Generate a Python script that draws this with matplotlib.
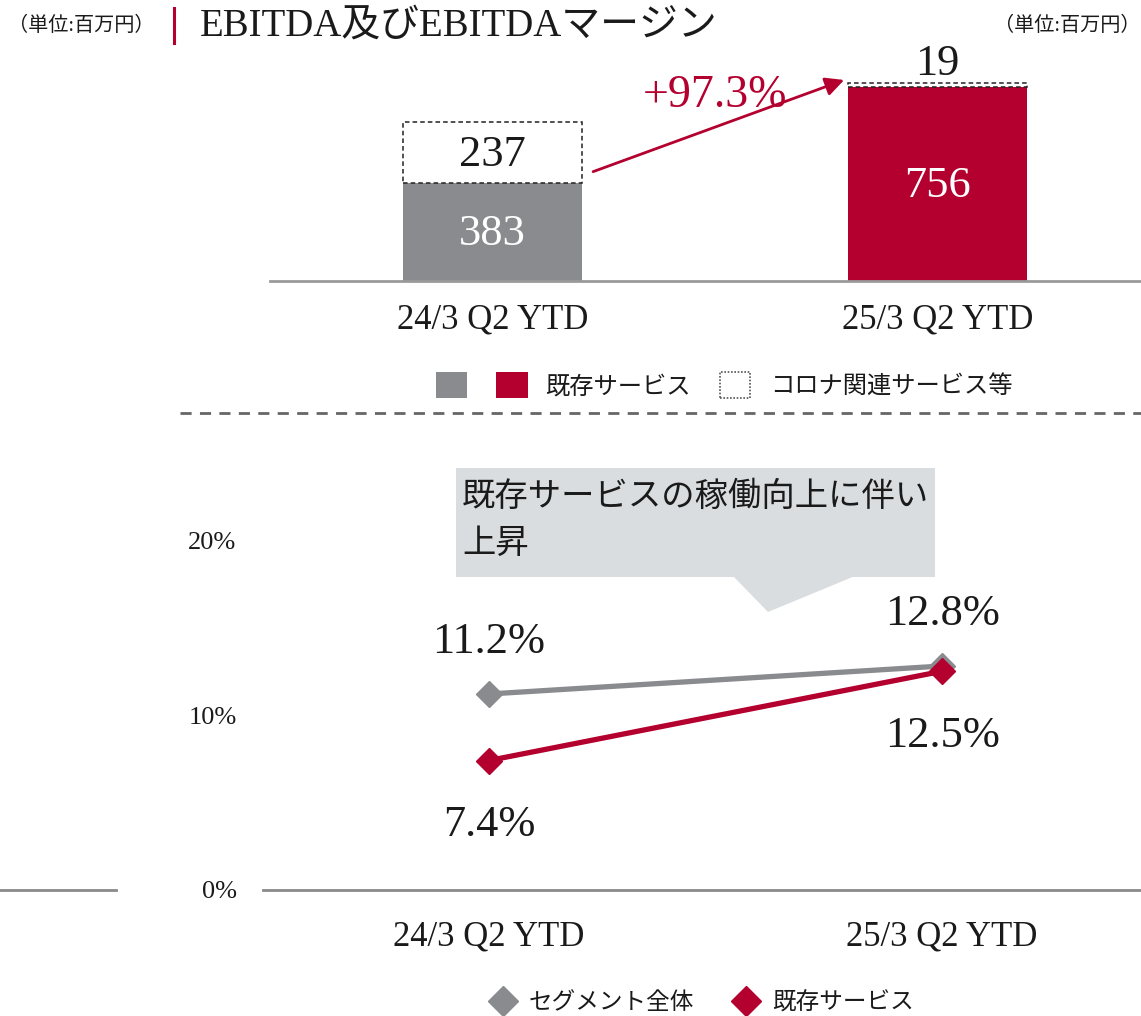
import matplotlib
matplotlib.use('Agg')
import matplotlib.pyplot as plt
from matplotlib.patches import Patch, Polygon, Rectangle
from matplotlib.lines import Line2D
from matplotlib.legend_handler import HandlerTuple
import matplotlib.ticker as mticker

plt.rcParams['font.family'] = ['Liberation Serif', 'Noto Sans CJK JP', 'DejaVu Sans']

# ---- data ----
periods = ['24/3 Q2 YTD', '25/3 Q2 YTD']
existing = [383, 756]          # 既存サービス
covid = [237, 19]              # コロナ関連サービス等
growth_label = '+97.3%'
margin_total = [11.2, 12.8]    # セグメント全体
margin_existing = [7.4, 12.5]  # 既存サービス
pct_ticks = [0, 10, 20]

GRAY = '#898b8e'
RED = '#b4002e'
TXT = '#1a1a1a'

W, H = 1141, 1016
fig = plt.figure(figsize=(W / 100, H / 100), dpi=100)

def fx(px):
    return px / W

def fy(py):
    return 1 - py / H

# ---------- header ----------
fig.text(fx(8), fy(26), '（単位:百万円）', fontsize=14.5, color=TXT, va='center', ha='left')
fig.text(fx(1141), fy(26), '（単位:百万円）', fontsize=14.5, color=TXT, va='center', ha='right')
fig.add_artist(Line2D([fx(174), fx(174)], [fy(8), fy(43)], color=RED, lw=2.2))
fig.text(fx(200), fy(26), 'EBITDA及びEBITDAマージン', fontsize=28, color=TXT, va='center', ha='left')

# ---------- top: stacked bars ----------
ax1 = fig.add_axes([fx(270), fy(281), fx(1141) - fx(270), (281 - 60) / H])
x = [0, 1]
bw = 0.402
ax1.bar(x[0], existing[0], bw, color=GRAY)
ax1.bar(x[1], existing[1], bw, color=RED)
ax1.bar(x, covid, bw, bottom=existing, facecolor='white', edgecolor='#222222',
        linestyle=(0, (3, 2)), linewidth=1.1)
ax1.set_xlim(-0.5, 1.457)
ax1.set_ylim(0, 863)
for s in ['top', 'right', 'left']:
    ax1.spines[s].set_visible(False)
ax1.spines['bottom'].set_color('#9a9a9a')
ax1.spines['bottom'].set_linewidth(2)
ax1.set_yticks([])
ax1.set_xticks(x)
ax1.set_xticklabels(periods, fontsize=25, color=TXT)
ax1.tick_params(axis='x', length=0, pad=16)

ax1.text(x[0], existing[0] / 2 - 8, f'{existing[0]}', color='white', fontsize=32, ha='center', va='center')
ax1.text(x[0], existing[0] + covid[0] / 2 - 8, f'{covid[0]}', color=TXT, fontsize=32, ha='center', va='center')
ax1.text(x[1], existing[1] / 2 - 8, f'{existing[1]}', color='white', fontsize=32, ha='center', va='center')
ax1.text(x[1], existing[1] + covid[1] - 6, f'{covid[1]}', color=TXT, fontsize=32, ha='center', va='bottom')

ax1.annotate('', xy=(0.79, existing[1] + covid[1] + 10), xytext=(0.226, 427),
             arrowprops=dict(arrowstyle='-|>', color=RED, lw=2, mutation_scale=28, shrinkA=0, shrinkB=0))
ax1.text(0.5, 722, growth_label, color=RED, fontsize=33, ha='center', va='center')

# top legends
h_gray = Patch(facecolor=GRAY, edgecolor='none')
h_red = Patch(facecolor=RED, edgecolor='none')
h_cov = Patch(facecolor='white', edgecolor='#555555', linestyle=(0, (1, 1)), linewidth=1.2)
fig.legend([(h_gray, h_red)], ['既存サービス'],
           handler_map={tuple: HandlerTuple(ndivide=None, pad=1.2)},
           loc='center', bbox_to_anchor=(fx(563), fy(385)), frameon=False,
           fontsize=17.5, handlelength=3.8, handleheight=1.3, handletextpad=0.7,
           labelcolor=TXT, borderpad=0, borderaxespad=0)
fig.legend([h_cov], ['コロナ関連サービス等'],
           loc='center', bbox_to_anchor=(fx(866), fy(385)), frameon=False,
           fontsize=17.5, handlelength=1.25, handleheight=1.3, handletextpad=0.8,
           labelcolor=TXT, borderpad=0, borderaxespad=0)

# separator
fig.add_artist(Line2D([fx(180), fx(1141)], [fy(413), fy(413)], color='#666666', lw=2,
                      linestyle=(0, (4, 3))))

# ---------- bottom: margin lines ----------
ax2 = fig.add_axes([fx(263), fy(890), fx(1141) - fx(263), (890 - 470) / H])
ax2.plot(x, margin_total, color=GRAY, lw=3.8, marker='D', markersize=13, zorder=3)
ax2.plot(x, margin_existing, color=RED, lw=3.8, marker='D', markersize=13, zorder=4)
ax2.set_xlim(-0.499, 1.439)
ax2.set_ylim(0, 24)
for s in ['top', 'right', 'left']:
    ax2.spines[s].set_visible(False)
ax2.spines['bottom'].set_color('#8a8a8a')
ax2.spines['bottom'].set_linewidth(2)
ax2.set_yticks(pct_ticks)
ax2.yaxis.set_major_formatter(mticker.FuncFormatter(lambda v, p: f'{v:.0f}%'))
ax2.tick_params(axis='y', length=0, pad=19, labelsize=19, labelcolor=TXT)
ax2.set_xticks(x)
ax2.set_xticklabels(periods, fontsize=25, color=TXT)
ax2.tick_params(axis='x', length=0, pad=22)

ax2.text(x[0], margin_total[0] + 3.0, f'{margin_total[0]}%', fontsize=32, color=TXT, ha='center', va='center')
ax2.text(x[1], margin_total[1] + 3.0, f'{margin_total[1]}%', fontsize=32, color=TXT, ha='center', va='center')
ax2.text(x[0], margin_existing[0] - 3.7, f'{margin_existing[0]}%', fontsize=32, color=TXT, ha='center', va='center')
ax2.text(x[1], margin_existing[1] - 3.7, f'{margin_existing[1]}%', fontsize=32, color=TXT, ha='center', va='center')

# callout box
BOX = '#dadddf'
fig.add_artist(Rectangle((fx(456), fy(577)), fx(935) - fx(456), (577 - 468) / H,
                         facecolor=BOX, edgecolor='none'))
fig.add_artist(Polygon([(fx(733), fy(576)), (fx(855), fy(576)), (fx(768), fy(612))],
                       closed=True, facecolor=BOX, edgecolor='none'))
fig.text(fx(462), fy(497), '既存サービスの稼働向上に伴い', fontsize=24, color=TXT, ha='left', va='center')
fig.text(fx(462), fy(545), '上昇', fontsize=24, color=TXT, ha='left', va='center')

# stray rule at lower left
fig.add_artist(Line2D([0, fx(116)], [fy(890), fy(890)], color='#8a8a8a', lw=2))

# bottom legend
lh1 = Line2D([], [], color=GRAY, marker='D', markersize=15, linestyle='none')
lh2 = Line2D([], [], color=RED, marker='D', markersize=15, linestyle='none')
fig.legend([lh1, lh2], ['セグメント全体', '既存サービス'], loc='center',
           bbox_to_anchor=(fx(701), fy(1003)), ncol=2, frameon=False, fontsize=17,
           handlelength=1.2, handletextpad=0.5, columnspacing=1.6, labelcolor=TXT,
           borderpad=0, borderaxespad=0)

fig.savefig('out.png', dpi=100)
